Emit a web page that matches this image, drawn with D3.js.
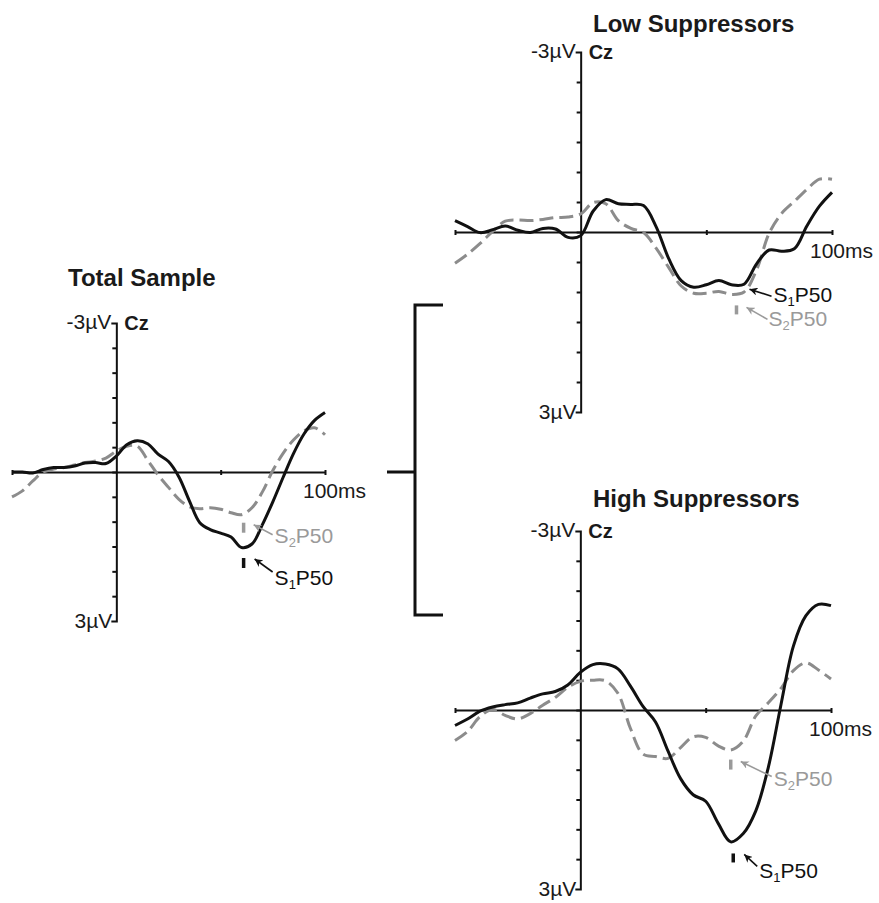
<!DOCTYPE html>
<html lang="en">
  <head>
    <meta charset="UTF-8" />
    <title>P50 at Cz</title>
    <script src="https://d3js.org/d3.v7.min.js"></script>
    <style>
      html,
      body {
        margin: 0;
        padding: 0;
        background: #fff;
      }
      svg {
        display: block;
        font-family: "Liberation Sans", Arial, sans-serif;
      }
      .title {
        font-weight: bold;
        font-size: 24px;
        fill: #1a1a1a;
      }
      .lbl {
        font-size: 21px;
        fill: #1a1a1a;
      }
      .cz {
        font-weight: bold;
        font-size: 20px;
        fill: #1a1a1a;
      }
      .axis path,
      .axis line {
        stroke: #111;
        stroke-width: 2;
        fill: none;
      }
      .s1 {
        fill: none;
        stroke: #111;
        stroke-width: 3;
      }
      .s2 {
        fill: none;
        stroke: #8c8c8c;
        stroke-width: 3;
        stroke-dasharray: 14 6;
      }
    </style>
  </head>
  <body>
    <svg id="chart" width="879" height="903"></svg>

    <script>
      // time grid (ms) shared by every waveform
      const timesMs = [
        -50, -45, -40, -35, -30, -25, -20, -15, -10, -5, 0, 5, 10, 15, 20, 25,
        30, 35, 40, 45, 50, 55, 60, 65, 70, 75, 80, 85, 90, 95, 100,
      ];

      // amplitudes in µV (negative is drawn upward)
      const totalS1 = [
        0.0, 0.0, 0.02, -0.05, -0.09, -0.09, -0.12, -0.18, -0.19, -0.17, -0.32,
        -0.55, -0.63, -0.57, -0.36, -0.21, 0.1, 0.58, 1.02, 1.16, 1.23, 1.31,
        1.52, 1.45, 1.06, 0.6, 0.1, -0.38, -0.77, -1.04, -1.2,
      ];
      const totalS2 = [
        0.5, 0.38, 0.18, 0.0, -0.06, -0.09, -0.14, -0.19, -0.22, -0.28, -0.42,
        -0.52, -0.52, -0.24, 0.06, 0.31, 0.55, 0.7, 0.74, 0.72, 0.75, 0.82,
        0.86, 0.72, 0.4, -0.03, -0.38, -0.65, -0.83, -0.89, -0.75,
      ];
      const lowS1 = [
        -0.19, -0.09, 0.01, -0.04, -0.1, -0.03, 0.01, -0.06, -0.05, 0.09, 0.06,
        -0.35, -0.54, -0.47, -0.46, -0.44, -0.09, 0.44, 0.81, 0.92, 0.88, 0.81,
        0.88, 0.87, 0.53, 0.3, 0.32, 0.28, -0.1, -0.43, -0.66,
      ];
      const lowS2 = [
        0.52, 0.37, 0.19, -0.01, -0.18, -0.2, -0.19, -0.21, -0.24, -0.25, -0.3,
        -0.49, -0.47, -0.19, -0.06, 0.01, 0.27, 0.59, 0.9, 1.02, 1.02, 0.99,
        1.04, 1.0, 0.63, 0.02, -0.31, -0.51, -0.71, -0.88, -0.88,
      ];
      const highS1 = [
        0.26, 0.15, 0.02, -0.05, -0.09, -0.12, -0.2, -0.27, -0.31, -0.42, -0.63,
        -0.76, -0.77, -0.69, -0.4, -0.06, 0.2, 0.69, 1.15, 1.42, 1.53, 1.9,
        2.21, 2.07, 1.69, 0.96, -0.08, -1.07, -1.58, -1.77, -1.75,
      ];
      const highS2 = [
        0.51, 0.36, 0.11, -0.01, 0.09, 0.15, 0.06, -0.08, -0.21, -0.38, -0.48,
        -0.5, -0.49, -0.28, 0.31, 0.74, 0.78, 0.81, 0.63, 0.45, 0.46, 0.6, 0.67,
        0.52, 0.1, -0.12, -0.36, -0.66, -0.79, -0.67, -0.52,
      ];

      // P50 peaks: latency (ms) and amplitude (µV), order = total, low, high
      const s1PeakMs = [61, 64, 61];
      const s1PeakUv = [1.55, 0.92, 2.22];
      const s2PeakMs = [61, 62, 60];
      const s2PeakUv = [0.86, 1.04, 0.68];

      const yTicksUv = [-2.5, -2, -1.5, -1, -0.5, 0, 0.5, 1, 1.5, 2, 2.5];
      const xTicksMs = [-50, 50, 100];

      const svg = d3.select("#chart");

      // arrowheads that point back toward the start of the line
      const defs = svg.append("defs");
      [
        ["arrowBlack", "#111"],
        ["arrowGray", "#9a9a9a"],
      ].forEach(([id, col]) => {
        defs
          .append("marker")
          .attr("id", id)
          .attr("viewBox", "0 0 10 10")
          .attr("refX", 0)
          .attr("refY", 5)
          .attr("markerWidth", 5)
          .attr("markerHeight", 5)
          .attr("orient", "auto")
          .append("path")
          .attr("d", "M0,5 L10,0 L7,5 L10,10 Z")
          .attr("fill", col);
      });

      // layout of the three panels
      const panels = [
        {
          title: "Total Sample",
          s1: totalS1,
          s2: totalS2,
          xr: [12, 325],
          yr: [323, 621],
          titlePos: [68, 286],
          notes: [
            { s: 2, bar: [8, 18], arrow: [10, 10, 29, 20], text: [31, 28] },
            { s: 1, bar: [9, 19], arrow: [11, 10, 29, 23], text: [31, 36] },
          ],
        },
        {
          title: "Low Suppressors",
          s1: lowS1,
          s2: lowS2,
          xr: [455, 832],
          yr: [52, 412],
          titlePos: [593, 32],
          notes: [
            { s: 1, bar: null, arrow: [8, 2, 30, 9], text: [32, 15] },
            { s: 2, bar: [11, 20], arrow: [10, 13, 31, 25], text: [32, 32] },
          ],
        },
        {
          title: "High Suppressors",
          s1: highS1,
          s2: highS2,
          xr: [455, 831],
          yr: [531, 889],
          titlePos: [593, 507],
          notes: [
            { s: 2, bar: [9, 19], arrow: [10, 11, 41, 26], text: [43, 35] },
            { s: 1, bar: [11, 20], arrow: [11, 12, 24, 24], text: [26, 36] },
          ],
        },
      ];

      panels.forEach((p, i) => {
        const x = d3.scaleLinear().domain([-50, 100]).range(p.xr);
        const y = d3.scaleLinear().domain([-3, 3]).range(p.yr);
        const g = svg.append("g");

        // x axis through 0 µV
        const xAxis = g
          .append("g")
          .attr("class", "axis")
          .attr("transform", `translate(0,${y(0)})`)
          .call(
            d3
              .axisBottom(x)
              .tickValues(xTicksMs)
              .tickSize(3)
              .tickSizeOuter(0)
              .tickFormat("")
          );
        xAxis.selectAll(".tick line").attr("y1", -2);

        // y axis at 0 ms
        g.append("g")
          .attr("class", "axis")
          .attr("transform", `translate(${x(0)},0)`)
          .call(
            d3
              .axisLeft(y)
              .tickValues(yTicksUv)
              .tickSize(4)
              .tickSizeOuter(5)
              .tickFormat("")
          );

        // waveforms
        const line = d3
          .line()
          .x((d) => x(d[0]))
          .y((d) => y(d[1]))
          .curve(d3.curveCatmullRom.alpha(0.5));
        g.append("path")
          .attr("class", "s2")
          .attr("d", line(timesMs.map((t, k) => [t, p.s2[k]])));
        g.append("path")
          .attr("class", "s1")
          .attr("d", line(timesMs.map((t, k) => [t, p.s1[k]])));

        // labels
        g.append("text")
          .attr("class", "title")
          .attr("x", p.titlePos[0])
          .attr("y", p.titlePos[1])
          .text(p.title);
        g.append("text")
          .attr("class", "lbl")
          .attr("text-anchor", "end")
          .attr("x", x(0) - 5)
          .attr("y", y(-3) + 6)
          .text("-3µV");
        g.append("text")
          .attr("class", "cz")
          .attr("x", x(0) + 8)
          .attr("y", y(-3) + 7)
          .text("Cz");
        g.append("text")
          .attr("class", "lbl")
          .attr("text-anchor", "end")
          .attr("x", x(0) - 4)
          .attr("y", y(3) + 7)
          .text("3µV");
        g.append("text")
          .attr("class", "lbl")
          .attr("x", x(100) - 22)
          .attr("y", y(0) + 26)
          .text("100ms");

        // P50 annotations
        p.notes.forEach((n) => {
          const ms = n.s === 1 ? s1PeakMs[i] : s2PeakMs[i];
          const uv = n.s === 1 ? s1PeakUv[i] : s2PeakUv[i];
          const px = x(ms);
          const py = y(uv);
          const col = n.s === 1 ? "#111" : "#9a9a9a";
          if (n.bar) {
            g.append("line")
              .attr("x1", px)
              .attr("x2", px)
              .attr("y1", py + n.bar[0])
              .attr("y2", py + n.bar[1])
              .attr("stroke", col)
              .attr("stroke-width", 3.5);
          }
          g.append("line")
            .attr("x1", px + n.arrow[0])
            .attr("y1", py + n.arrow[1])
            .attr("x2", px + n.arrow[2])
            .attr("y2", py + n.arrow[3])
            .attr("stroke", col)
            .attr("stroke-width", 1.6)
            .attr(
              "marker-start",
              `url(#${n.s === 1 ? "arrowBlack" : "arrowGray"})`
            );
          const t = g
            .append("text")
            .attr("class", "lbl")
            .attr("x", px + n.text[0])
            .attr("y", py + n.text[1])
            .style("fill", col);
          t.append("tspan").text("S");
          t.append("tspan")
            .attr("dy", 4)
            .style("font-size", "13px")
            .text(String(n.s));
          t.append("tspan").attr("dy", -4).text("P50");
        });
      });

      // bracket joining total sample to the two subgroups
      const bracketX = [387, 415, 443];
      const bracketY = [305, 472, 615];
      svg
        .append("path")
        .attr(
          "d",
          `M${bracketX[2]},${bracketY[0]}H${bracketX[1]}V${bracketY[2]}H${bracketX[2]}` +
            `M${bracketX[0]},${bracketY[1]}H${bracketX[1]}`
        )
        .attr("fill", "none")
        .attr("stroke", "#111")
        .attr("stroke-width", 3);
    </script>
  </body>
</html>
